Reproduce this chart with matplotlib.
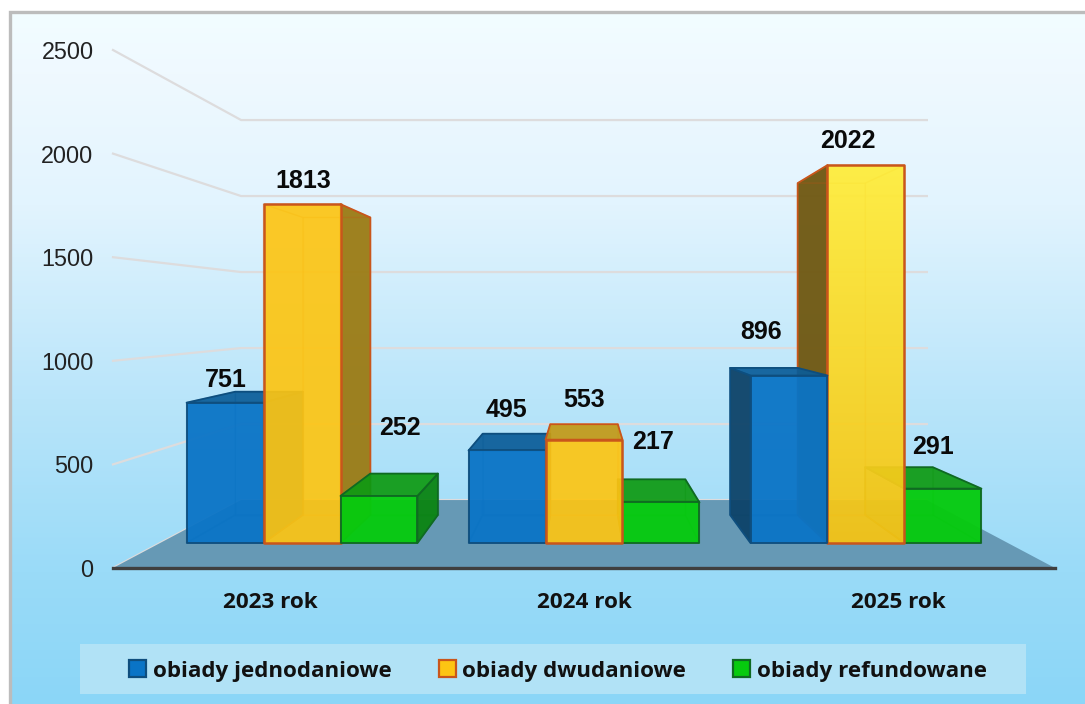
import numpy as np
import matplotlib
matplotlib.use("Agg")
import matplotlib.pyplot as plt
from matplotlib.colors import LinearSegmentedColormap, to_rgb
from matplotlib.lines import Line2D
from matplotlib.patches import Polygon, Rectangle

categories = ["2023 rok", "2024 rok", "2025 rok"]
series_names = ["obiady jednodaniowe", "obiady dwudaniowe", "obiady refundowane"]
jednodaniowe = [751, 495, 896]
dwudaniowe = [1813, 553, 2022]
refundowane = [252, 217, 291]
value_ticks = [0, 500, 1000, 1500, 2000, 2500]

W, H = 1085, 704
fig = plt.figure(figsize=(W / 100, H / 100), dpi=100, facecolor="white")

# ---------- page background ----------
bg = fig.add_axes([0, 0, 1, 1], zorder=0)
bg.set_xlim(0, W)
bg.set_ylim(H, 0)
bg.axis("off")
stops = [(0.0, "#f2fdff"), (0.09, "#eff9ff"), (0.28, "#e2f4fe"), (0.56, "#b9e5fa"),
         (0.81, "#9adbf8"), (1.0, "#8bd6f7")]
grad = LinearSegmentedColormap.from_list("bg", stops)
bg.imshow(np.linspace(0, 1, 256)[:, None], cmap=grad, extent=(9, W, H, 11), aspect="auto", vmin=0, vmax=1)
bg.set_xlim(0, W)
bg.set_ylim(H, 0)
bg.plot([9.5, 9.5, W], [H, 11.5, 11.5], color="#bcbcbc", lw=2.4, solid_joinstyle="miter")
bg.add_patch(Rectangle((80, 644), 946, 50, facecolor="#b1e2f6", edgecolor="none"))

# ---------- chart axes: front plane of the 3D box ----------
ax = fig.add_axes([113 / W, (H - 568) / H, 942 / W, 518 / H], zorder=1)
ax.patch.set_visible(False)
ax.set_xlim(-0.5, 2.5)
ax.set_ylim(0, 2500)
for name in ["top", "left", "right"]:
    ax.spines[name].set_visible(False)
ax.spines["bottom"].set_color("#3f3f3f")
ax.spines["bottom"].set_linewidth(2.4)
ax.spines["bottom"].set_zorder(3)
ax.set_xticks(range(3), categories, fontfamily="Open Sans", fontweight="bold", fontsize=16.2, color="#111111")
ax.set_yticks(value_ticks, [str(v) for v in value_ticks], fontfamily="Liberation Sans", fontsize=16.8, color="#222222")
ax.tick_params(axis="x", length=0, pad=17)
ax.tick_params(axis="y", length=0, pad=14)

# perspective projection of (category position, value, depth scale)
VX, VV = 1.0, 1231.0
S_WALL, S_WALL_X = 0.7336, 0.728
S_BACK, S_BACK_X = 0.792, 0.788
S_FRONT, S_FRONT_X = 0.902, 0.898


def proj(x, v, s, sx=None):
    return VX + (x - VX) * (s if sx is None else sx), VV + (v - VV) * s


# ---------- floor and walls ----------
x0, x1 = -0.5, 2.5
floor = [proj(x0, 0, 1), proj(x1, 0, 1), proj(x1, 0, S_WALL, S_WALL_X), proj(x0, 0, S_WALL, S_WALL_X)]
ax.add_patch(Polygon(floor, closed=True, facecolor="#6699b5", edgecolor="none", zorder=1, clip_on=False))
for v in value_ticks:
    a, b, c = proj(x0, v, 1), proj(x0, v, S_WALL, S_WALL_X), proj(x1, v, S_WALL, S_WALL_X)
    ax.add_line(Line2D([a[0], b[0], c[0]], [a[1], b[1], c[1]], color="#dddcdd", lw=1.6, zorder=0.5,
                       clip_on=False, solid_joinstyle="miter"))

# ---------- bars ----------
BAR_W = 0.273
series = [jednodaniowe, dwudaniowe, refundowane]
front_cols = ["#0a74c6", "#fdc513", "#06cb0e"]
top_cols = ["#0a5c98", "#c39a16", "#0e9a12"]
side_cols = [["#0b5c98", "#0d4369", "#0d4369"],
             ["#9b7b14", "#9b7b14", "#6f5710"],
             ["#0a8412", "#0e9a12", "#0a8412"]]
side_alpha = [[0.95, 0.95, 0.95],
              [0.95, 0.95, 0.95],
              [0.95, 0.95, 0.25]]
edge_cols = ["#0e4e7e", "#c9561b", "#0f6a22"]
front_alpha = [0.95, 0.92, 0.96]
label_offsets = [[(1, 23), (-1, 40), (-28, 44)],
                 [(1, 23), (0, 40), (-18, 24)],
                 [(21, 68), (-8, 60), (-10, 42)]]

bars = []
for si, vals in enumerate(series):
    for ci, val in enumerate(vals):
        bars.append((ci + (si - 1) * BAR_W, val, si, ci))
bars.sort(key=lambda b: -abs(b[0] - VX))

z = 2.0
for xc, val, si, ci in bars:
    xl, xr = xc - BAR_W / 2, xc + BAR_W / 2
    fc = front_cols[si]
    ec = edge_cols[si]
    fbl, fbr = proj(xl, 0, S_FRONT, S_FRONT_X), proj(xr, 0, S_FRONT, S_FRONT_X)
    ftl, ftr = proj(xl, val, S_FRONT, S_FRONT_X), proj(xr, val, S_FRONT, S_FRONT_X)
    bbl, bbr = proj(xl, 0, S_BACK, S_BACK_X), proj(xr, 0, S_BACK, S_BACK_X)
    btl, btr = proj(xl, val, S_BACK, S_BACK_X), proj(xr, val, S_BACK, S_BACK_X)

    def face(pts, color, alpha, edge=ec, lw=1.3):
        global z
        rgba = to_rgb(color) + (alpha,)
        p = Polygon(pts, closed=True, facecolor=rgba, edgecolor=edge, lw=lw, zorder=z, clip_on=False,
                    joinstyle="round")
        ax.add_patch(p)
        z += 0.01
        return p

    faint = ec + "44"
    face([bbl, bbr, btr, btl], fc, 0.0, edge=faint, lw=1.0)
    face([fbl, fbr, bbr, bbl], fc, 0.0, edge=faint, lw=1.0)
    # the side facing the centre of the chart stays hidden behind the front face
    if xc < VX:
        side = [fbr, bbr, btr, ftr]
        other = [fbl, bbl, btl, ftl]
    else:
        side = [fbl, bbl, btl, ftl]
        other = [fbr, bbr, btr, ftr]
    face(other, fc, 0.0, edge=faint, lw=1.0)
    if abs(xc - VX) > 1e-6:
        face(side, side_cols[si][ci], side_alpha[si][ci])
    else:
        face(side, side_cols[si][ci], 0.0, edge=faint, lw=1.0)
    seen_from_below = val > VV
    if seen_from_below:
        face([ftl, ftr, btr, btl], fc, 0.0, edge=faint, lw=1.0)
    else:
        face([ftl, ftr, btr, btl], top_cols[si], 0.92)
    front = [fbl, fbr, ftr, ftl]
    if si == 1 and val == max(dwudaniowe):
        cm = LinearSegmentedColormap.from_list("y", ["#f6c414", "#ffed3a"])
        img = ax.imshow(np.linspace(0, 1, 128)[:, None], origin="lower", cmap=cm, aspect="auto",
                        extent=(ftl[0], ftr[0], fbl[1], ftl[1]), zorder=z, alpha=0.94)
        img.set_clip_path(Polygon(front, closed=True, transform=ax.transData))
        z += 0.01
        face(front, fc, 0.0, lw=1.8)
    else:
        face(front, fc, front_alpha[si], lw=1.8 if si == 1 else 1.3)

for si, vals in enumerate(series):
    for ci, val in enumerate(vals):
        xc = ci + (si - 1) * BAR_W
        dx, dy = label_offsets[si][ci]
        anchor = proj(xc, val, S_FRONT, S_FRONT_X)
        ax.annotate(str(val), anchor, xytext=(dx * 0.72, dy * 0.72), textcoords="offset points",
                    ha="center", va="center", fontfamily="Liberation Sans", fontweight="bold", fontsize=18,
                    color="#0a0a0a", zorder=20, annotation_clip=False)

ax.set_xlim(-0.5, 2.5)
ax.set_ylim(0, 2500)

# ---------- legend ----------
handles = [Rectangle((0, 0), 1, 1, facecolor=front_cols[i], edgecolor=edge_cols[i], lw=1.6) for i in range(3)]
fig.legend(handles, series_names, loc="center", bbox_to_anchor=(558 / W, (H - 671) / H), ncol=3, frameon=False,
           prop={"family": "Open Sans", "weight": "bold", "size": 16.1}, labelcolor="#111111",
           handlelength=0.76, handleheight=0.76, handletextpad=0.28, columnspacing=2.12, borderpad=0)

fig.savefig("out.png", dpi=100)
